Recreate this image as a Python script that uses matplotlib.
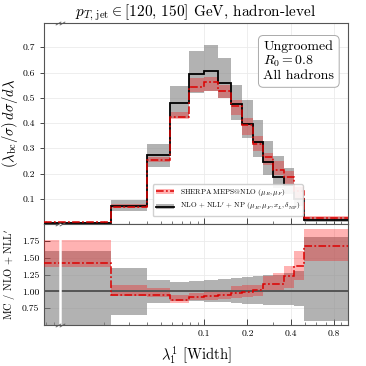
import numpy as np
import matplotlib
matplotlib.use("Agg")
import matplotlib.pyplot as plt
import matplotlib.transforms as mtransforms
from matplotlib.ticker import FixedLocator, LogLocator, NullFormatter
from matplotlib.patches import Patch
from matplotlib.lines import Line2D

plt.rcParams['font.family'] = 'serif'
plt.rcParams['font.serif'] = ['cmr10', 'DejaVu Serif']
plt.rcParams['mathtext.fontset'] = 'cm'
plt.rcParams['axes.formatter.use_mathtext'] = True

# ---------------- data ----------------
edges = [0.0077, 0.0225, 0.040, 0.058, 0.078, 0.100, 0.125, 0.153, 0.182,
         0.217, 0.258, 0.302, 0.361, 0.423, 0.497, 1.0]

nll_central = [0.004, 0.073, 0.273, 0.480, 0.596, 0.608, 0.558, 0.476, 0.396,
               0.325, 0.246, 0.185, 0.155, 0.100, 0.015]
nll_low = [0.000, 0.050, 0.226, 0.420, 0.520, 0.525, 0.500, 0.413, 0.341,
           0.264, 0.196, 0.143, 0.120, 0.071, 0.008]
nll_high = [0.007, 0.095, 0.317, 0.547, 0.686, 0.709, 0.658, 0.551, 0.492,
            0.413, 0.327, 0.268, 0.220, 0.145, 0.027]

mc_central = [0.006, 0.069, 0.254, 0.425, 0.544, 0.564, 0.527, 0.469, 0.393,
              0.317, 0.266, 0.215, 0.188, 0.130, 0.025]
mc_low = [0.005, 0.063, 0.244, 0.415, 0.523, 0.525, 0.499, 0.433, 0.354,
          0.288, 0.235, 0.196, 0.156, 0.097, 0.021]
mc_high = [0.009, 0.078, 0.266, 0.445, 0.580, 0.584, 0.551, 0.492, 0.420,
           0.347, 0.281, 0.248, 0.209, 0.150, 0.030]

ratio_mc = [1.425, 0.95, 0.94, 0.865, 0.91, 0.935, 0.95, 0.975, 0.99,
            1.015, 1.11, 1.115, 1.235, 1.38, 1.68]
ratio_mc_low = [1.36, 0.925, 0.91, 0.83, 0.875, 0.875, 0.89, 0.90, 0.91,
                0.93, 1.00, 1.00, 1.05, 1.17, 1.45]
ratio_mc_high = [1.76, 1.10, 1.05, 0.95, 0.975, 1.00, 1.01, 1.075, 1.09,
                 1.10, 1.23, 1.27, 1.38, 1.60, 1.93]
ratio_nll_low = [0.45, 0.65, 0.83, 0.86, 0.85, 0.84, 0.835, 0.82, 0.81,
                 0.81, 0.80, 0.80, 0.79, 0.775, 0.565]
ratio_nll_high = [1.60, 1.35, 1.175, 1.14, 1.16, 1.175, 1.19, 1.20, 1.21,
                  1.225, 1.24, 1.25, 1.275, 1.30, 1.81]

xticks = [0.1, 0.2, 0.4, 0.8]
xticklabels = ['0.1', '0.2', '0.4', '0.8']
yticks_main = [0.1, 0.2, 0.3, 0.4, 0.5, 0.6, 0.7]
yticks_ratio = [0.75, 1.00, 1.25, 1.50, 1.75]
x_break = 0.01

# ---------------- figure ----------------
fig = plt.figure(figsize=(3.66, 3.66), dpi=100)
W, H = 366, 366
ax = fig.add_axes([44 / W, 1 - 224 / H, (348 - 44) / W, (224 - 23.3) / H])
axr = fig.add_axes([44 / W, 1 - 325 / H, (348 - 44) / W, (325 - 224) / H], sharex=ax)

grey_c = '#808080'
red_c = '#ff0000'
dashdot = (0, (5, 1.5, 1.2, 1.5))

# main panel
ax.stairs(nll_high, edges, baseline=nll_low, fill=True, color=grey_c, alpha=0.6, lw=0, zorder=2)
ax.stairs(mc_high, edges, baseline=mc_low, fill=True, color=red_c, alpha=0.3, lw=0, zorder=3)
ax.stairs(nll_central, edges, baseline=None, color='black', lw=1.3, zorder=5)
ax.stairs(mc_central, edges, baseline=None, color='#dd0000', lw=1.1, linestyle=dashdot, zorder=6)

# ratio panel
axr.stairs(ratio_nll_high, edges, baseline=ratio_nll_low, fill=True, color=grey_c, alpha=0.6, lw=0, zorder=2)
axr.stairs(ratio_mc_high, edges, baseline=ratio_mc_low, fill=True, color=red_c, alpha=0.3, lw=0, zorder=3)
axr.axhline(1.0, color='#555555', lw=1.4, zorder=5)
axr.stairs(ratio_mc, edges, baseline=None, color='#dd0000', lw=1.1, linestyle=dashdot, zorder=6)
axr.axvline(x_break, color='white', lw=1.8, zorder=7)

for a in (ax, axr):
    a.set_xscale('log')
    a.set_xlim(edges[0], edges[-1])
    a.xaxis.set_major_locator(FixedLocator(xticks))
    a.xaxis.set_minor_locator(LogLocator(base=10, subs=np.arange(2, 10)))
    a.xaxis.set_minor_formatter(NullFormatter())
    a.grid(True, which='major', color='#ebebeb', lw=0.6, zorder=0)
    a.set_axisbelow(True)
    a.tick_params(which='both', direction='in', labelsize=7, color='#444444')
    a.tick_params(which='major', length=4, width=0.7)
    a.tick_params(which='minor', length=2, width=0.5)
    for s in a.spines.values():
        s.set_color('#555555')
        s.set_linewidth(0.8)
    trans = mtransforms.blended_transform_factory(a.transData, a.transAxes)
    for yy in (0, 1):
        for dx in (0.965, 1.035):
            a.plot([x_break * dx], [yy], transform=trans, marker=[(-1, -0.6), (1, 0.6)],
                   ms=4, mew=0.6, color='#555555', clip_on=False, zorder=10, ls='none')

ax.tick_params(axis='y', which='major', direction='out', length=3)
ax.set_ylim(0, 0.795)
ax.set_yticks(yticks_main)
ax.set_yticklabels([f'{v:.1f}' for v in yticks_main])
ax.tick_params(axis='x', labelbottom=False)

axr.set_ylim(0.5, 2.0)
axr.set_yticks(yticks_ratio)
axr.set_yticklabels([f'{v:.2f}' for v in yticks_ratio])
axr.set_xticks(xticks)
axr.set_xticklabels(xticklabels)

ax.set_ylabel(r'$(\lambda_{\mathrm{bc}}/\sigma)\,d\sigma/d\lambda$', fontsize=10.5, labelpad=2)
axr.set_ylabel(r"MC / NLO + NLL$'$", fontsize=7.5, labelpad=3)
axr.set_xlabel(r'$\lambda_1^1$ [Width]', fontsize=10.5, labelpad=4)
ax.set_title(r'$p_{T,\,\mathrm{jet}} \in [120,\, 150]$ GeV, hadron-level', fontsize=11, pad=5)

# text box
ax.text(0.955, 0.915, 'Ungroomed\n$R_0 = 0.8$\nAll hadrons', transform=ax.transAxes,
        ha='right', va='top', fontsize=10, multialignment='left', linespacing=1.1,
        bbox=dict(boxstyle='round,pad=0.35', fc='white', ec='#aaaaaa', lw=0.7), zorder=12)

# legend
h_mc = (Patch(facecolor=red_c, alpha=0.3, lw=0),
        Line2D([], [], color='#dd0000', lw=1.1, linestyle=dashdot))
h_nll = (Patch(facecolor=grey_c, alpha=0.6, lw=0),
         Line2D([], [], color='black', lw=1.3))
leg = ax.legend([h_mc, h_nll],
                [r'SHERPA MEPS@NLO $(\mu_R, \mu_F)$',
                 r"NLO + NLL$'$ + NP $(\mu_R, \mu_F, x_L, \delta_{\rm NP})$"],
                loc='lower left', bbox_to_anchor=(0.345, 0.02), fontsize=5.3,
                frameon=True, fancybox=True, framealpha=0.9, edgecolor='#cccccc',
                handlelength=2.5, borderpad=0.4, labelspacing=0.45)
leg.set_zorder(11)

fig.savefig('out.png', dpi=100)
